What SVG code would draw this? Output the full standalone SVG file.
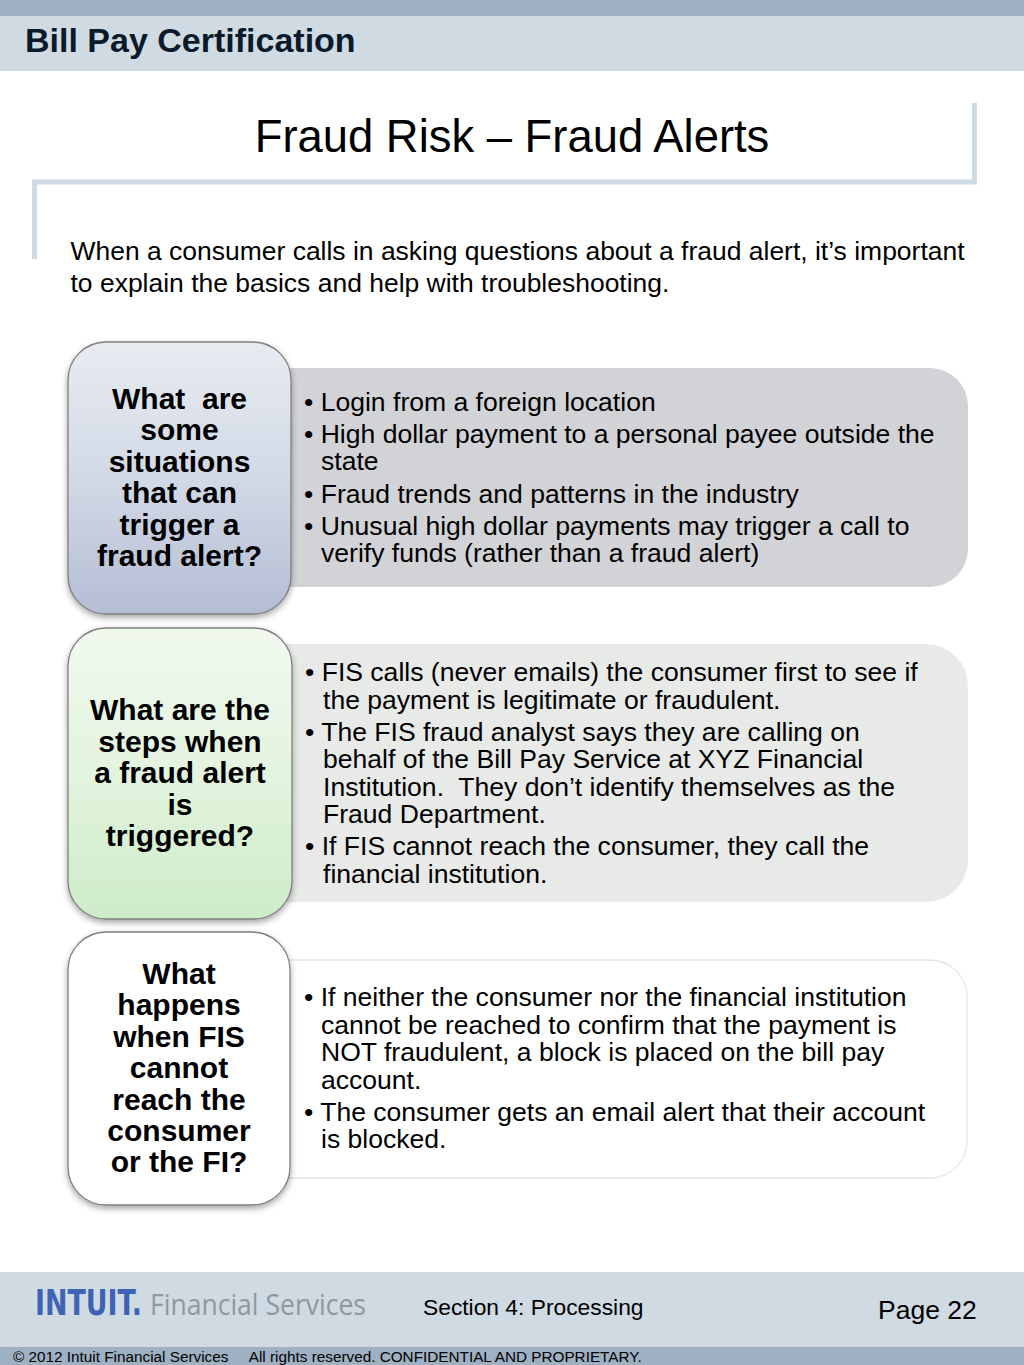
<svg xmlns="http://www.w3.org/2000/svg" width="1024" height="1365" viewBox="0 0 1024 1365">
<style>
text{font-family:"Liberation Sans",Arial,sans-serif}
.q{font-size:30px;font-weight:bold;text-anchor:middle}
.b{font-size:26.55px}
.box{stroke:#7f7f7f;stroke-width:1.3;filter:url(#sh)}
</style>
<defs>
<filter id="sh" x="-10%" y="-10%" width="120%" height="120%"><feDropShadow dx="0" dy="3" stdDeviation="3" flood-color="#000" flood-opacity="0.35"/></filter>
<linearGradient id="g1" x1="0" y1="0" x2="0" y2="1"><stop offset="0" stop-color="#e8ecf1"/><stop offset="0.5" stop-color="#d2d9e6"/><stop offset="1" stop-color="#b4bdd4"/></linearGradient>
<linearGradient id="g2" x1="0" y1="0" x2="0" y2="1"><stop offset="0" stop-color="#f1f9ef"/><stop offset="0.5" stop-color="#e3f4df"/><stop offset="1" stop-color="#cdecc8"/></linearGradient>
</defs>
<g id="header">
<rect x="0" y="0" width="1024" height="16" fill="#9eb0c2"/>
<rect x="0" y="16" width="1024" height="55" fill="#d0dae3"/>
<text x="25" y="52" font-size="34" font-weight="bold" fill="#0a1a2a">Bill Pay Certification</text>
</g>
<g id="title">
<path d="M974.500 103V182H34.500V259" fill="none" stroke="#cfdae4" stroke-width="5"/>
<text x="512" y="152" font-size="45.400" text-anchor="middle">Fraud Risk – Fraud Alerts</text>
</g>
<g id="intro">
<text x="70.500" y="260" font-size="26.470">When a consumer calls in asking questions about a fraud alert, it’s important</text>
<text x="70.500" y="292" font-size="26.470">to explain the basics and help with troubleshooting.</text>
</g>
<g id="panel1">
<path d="M250 368H930a38 38 0 0 1 38 38V549a38 38 0 0 1-38 38H250Z" fill="#d2d3d6"/>
<text class="b" x="304" y="410.500">• Login from a foreign location</text>
<text class="b" x="304" y="442.500">• High dollar payment to a personal payee outside the</text>
<text class="b" x="321" y="470">state</text>
<text class="b" x="304" y="502.500">• Fraud trends and patterns in the industry</text>
<text class="b" x="304" y="534.500">• Unusual high dollar payments may trigger a call to</text>
<text class="b" x="321" y="562">verify funds (rather than a fraud alert)</text>
</g>
<g id="panel2">
<path d="M250 644H926a42 42 0 0 1 42 42V860a42 42 0 0 1-42 42H250Z" fill="#e8eae8"/>
<text class="b" x="305" y="681">• FIS calls (never emails) the consumer first to see if</text>
<text class="b" x="323" y="708.500">the payment is legitimate or fraudulent.</text>
<text class="b" x="305" y="740.500">• The FIS fraud analyst says they are calling on</text>
<text class="b" x="323" y="768">behalf of the Bill Pay Service at XYZ Financial</text>
<text class="b" x="323" y="795.500" xml:space="preserve">Institution.  They don’t identify themselves as the</text>
<text class="b" x="323" y="823">Fraud Department.</text>
<text class="b" x="305" y="855">• If FIS cannot reach the consumer, they call the</text>
<text class="b" x="323" y="882.500">financial institution.</text>
</g>
<g id="panel3">
<path d="M250 960H930a37 37 0 0 1 37 37V1141a37 37 0 0 1-37 37H250Z" fill="#fff" stroke="#e3e5e8" stroke-width="1.300"/>
<text class="b" x="304" y="1006">• If neither the consumer nor the financial institution</text>
<text class="b" x="321" y="1034">cannot be reached to confirm that the payment is</text>
<text class="b" x="321" y="1061">NOT fraudulent, a block is placed on the bill pay</text>
<text class="b" x="321" y="1088.500">account.</text>
<text class="b" x="304" y="1120.500">• The consumer gets an email alert that their account</text>
<text class="b" x="321" y="1148">is blocked.</text>
</g>
<g id="question1">
<rect class="box" x="68" y="342" width="223" height="272" rx="38" fill="url(#g1)"/>
<text class="q" x="179.500" y="409" xml:space="preserve">What  are</text>
<text class="q" x="179.500" y="440">some</text>
<text class="q" x="179.500" y="472">situations</text>
<text class="q" x="179.500" y="503">that can</text>
<text class="q" x="179.500" y="535">trigger a</text>
<text class="q" x="179.500" y="566">fraud alert?</text>
</g>
<g id="question2">
<rect class="box" x="68" y="628" width="224" height="291" rx="38" fill="url(#g2)"/>
<text class="q" x="180" y="720">What are the</text>
<text class="q" x="180" y="752">steps when</text>
<text class="q" x="180" y="783">a fraud alert</text>
<text class="q" x="180" y="815">is</text>
<text class="q" x="180" y="846">triggered?</text>
</g>
<g id="question3">
<rect class="box" x="68" y="932" width="222" height="273" rx="38" fill="#fff"/>
<text class="q" x="179" y="984">What</text>
<text class="q" x="179" y="1015">happens</text>
<text class="q" x="179" y="1047">when FIS</text>
<text class="q" x="179" y="1078">cannot</text>
<text class="q" x="179" y="1110">reach the</text>
<text class="q" x="179" y="1141">consumer</text>
<text class="q" x="179" y="1172">or the FI?</text>
</g>
<g id="footer">
<rect x="0" y="1272" width="1024" height="75" fill="#d0dae3"/>
<rect x="0" y="1347" width="1024" height="18" fill="#9eb0c2"/>
<text x="35" y="1315" font-size="36" font-weight="bold" style="font-family:'DejaVu Sans',sans-serif" fill="#3d64b4" textLength="107" lengthAdjust="spacingAndGlyphs">INTUIT.</text>
<text x="150" y="1315" font-size="30" style="font-family:'Open Sans',sans-serif" fill="#8f989f" textLength="216" lengthAdjust="spacingAndGlyphs">Financial Services</text>
<text x="423" y="1314.500" font-size="22.800">Section 4: Processing</text>
<text x="878" y="1318.500" font-size="26.500">Page 22</text>
<text x="13" y="1362" font-size="15.300" xml:space="preserve">© 2012 Intuit Financial Services     All rights reserved. CONFIDENTIAL AND PROPRIETARY.</text>
</g>
</svg>
